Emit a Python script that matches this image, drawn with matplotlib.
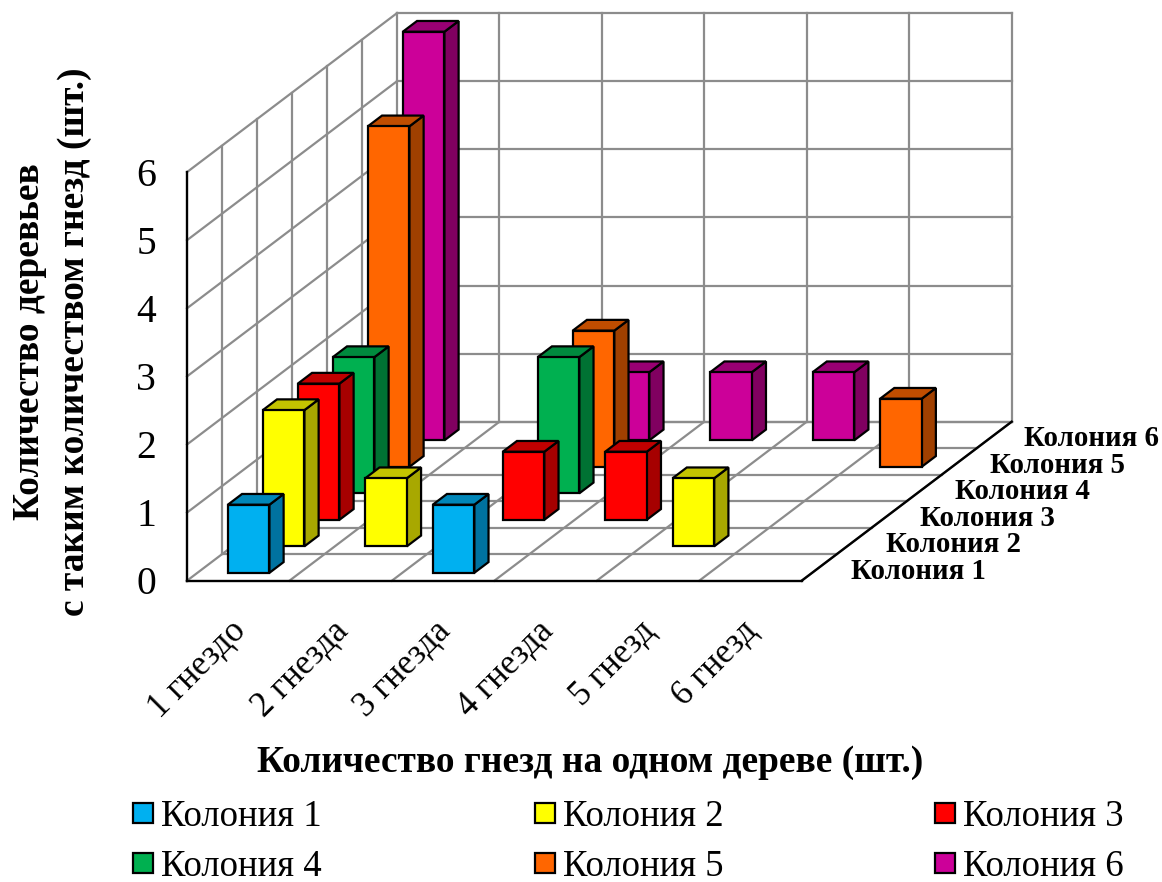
#!/usr/bin/env python3
"""Oblique 3D bar chart: trees by nest count for six colonies."""

from __future__ import annotations

import matplotlib

matplotlib.use("Agg")
import matplotlib.pyplot as plt
from matplotlib.patches import Polygon, Rectangle

plt.rcParams["font.family"] = ["Liberation Serif", "DejaVu Serif"]

nest_labels = ["1 гнездо", "2 гнезда", "3 гнезда", "4 гнезда", "5 гнезд", "6 гнезд"]
colonies = ["Колония 1", "Колония 2", "Колония 3", "Колония 4", "Колония 5", "Колония 6"]
z_ticks = [0, 1, 2, 3, 4, 5, 6]

colony_1 = [1, 0, 1, 0, 0, 0]
colony_2 = [2, 1, 0, 0, 1, 0]
colony_3 = [2, 0, 1, 1, 0, 0]
colony_4 = [2, 0, 2, 0, 0, 0]
colony_5 = [5, 0, 2, 0, 0, 1]
colony_6 = [6, 0, 1, 1, 1, 0]
counts = [colony_1, colony_2, colony_3, colony_4, colony_5, colony_6]

# front, top and side face colours per colony
face_colors = ["#00B0F0", "#FFFF00", "#FF0000", "#00B050", "#FF6600", "#CC0099"]
top_colors = ["#0086B8", "#C4C400", "#C00000", "#008A3E", "#C04D00", "#990073"]
side_colors = ["#0072A0", "#A8A800", "#A60000", "#007233", "#A04000", "#800060"]

GRID = "#8C8C8C"
ORIGIN_X, ORIGIN_Y = 187.0, 580.7
CAT_DX = 102.45
ROW_DX, ROW_DY = 35.0, -26.5
UNIT_DZ = 68.1
BAR_LO, BAR_HI = 0.297, 0.703


def project(cat: float, row: float, z: float) -> tuple[float, float]:
    """Map category, colony row and height to canvas pixels."""
    return (ORIGIN_X + cat * CAT_DX + row * ROW_DX, ORIGIN_Y + row * ROW_DY - z * UNIT_DZ)


def line3(ax, start, end, color=GRID, lw=1.6, zorder=1):
    x0, y0 = project(*start)
    x1, y1 = project(*end)
    ax.plot([x0, x1], [y0, y1], color=color, lw=lw, zorder=zorder, solid_capstyle="projecting")


def draw_bar(ax, cat, row, height, zorder):
    x0, x1 = cat + BAR_LO, cat + BAR_HI
    y0, y1 = row + BAR_LO, row + BAR_HI
    front = [(x0, y0, 0), (x1, y0, 0), (x1, y0, height), (x0, y0, height)]
    top = [(x0, y0, height), (x1, y0, height), (x1, y1, height), (x0, y1, height)]
    side = [(x1, y0, 0), (x1, y1, 0), (x1, y1, height), (x1, y0, height)]
    for corners, color in ((side, side_colors[row]), (top, top_colors[row]), (front, face_colors[row])):
        ax.add_patch(Polygon([project(*c) for c in corners], closed=True, facecolor=color,
                             edgecolor="black", lw=1.6, joinstyle="miter", zorder=zorder))


def main() -> int:
    fig = plt.figure(figsize=(11.62, 8.82), dpi=100)
    ax = fig.add_axes([0, 0, 1, 1])
    ax.set_xlim(0, 1162)
    ax.set_ylim(882, 0)
    ax.axis("off")

    n_cats, n_rows = len(nest_labels), len(colonies)
    z_max = z_ticks[-1]

    # walls and floor
    for z in z_ticks:
        line3(ax, (0, 0, z), (0, n_rows, z))
        line3(ax, (0, n_rows, z), (n_cats, n_rows, z))
    for row in range(1, n_rows + 1):
        line3(ax, (0, row, 0), (0, row, z_max))
        line3(ax, (0, row, 0), (n_cats, row, 0))
    for cat in range(1, n_cats + 1):
        line3(ax, (cat, 0, 0), (cat, n_rows, 0))
        line3(ax, (cat, n_rows, 0), (cat, n_rows, z_max))

    line3(ax, (0, 0, 0), (n_cats, 0, 0), color="black", lw=1.7, zorder=2)
    line3(ax, (n_cats, 0, 0), (n_cats, n_rows, 0), color="black", lw=1.7, zorder=2)
    line3(ax, (0, 0, 0), (0, 0, z_max), color="black", lw=1.7, zorder=2)

    # back rows first so nearer bars cover them
    order = 3
    for row in reversed(range(n_rows)):
        for cat in range(n_cats):
            if counts[row][cat] > 0:
                draw_bar(ax, cat, row, counts[row][cat], order)
                order += 1

    for z in z_ticks:
        x, y = project(0, 0, z)
        ax.text(x - 31, y + 4, str(z), fontsize=28.5, ha="right", va="center")

    for cat, label in enumerate(nest_labels):
        x, y = project(cat + 0.5, 0, 0)
        ax.text(x - 9, y + 34, label, fontsize=25, rotation=45, rotation_mode="anchor",
                ha="right", va="top")

    for row, label in enumerate(colonies):
        x, y = project(n_cats, row + 0.5, 0)
        ax.text(x + 32 - row * 0.4, y + 4, label, fontsize=20.8, fontweight="bold",
                ha="left", va="center")

    ax.text(590, 763, "Количество гнезд на одном дереве (шт.)", fontsize=26.9,
            fontweight="bold", ha="center", va="center")
    ax.text(52, 342, "Количество деревьев\nс таким количеством гнезд (шт.)", fontsize=26.9,
            fontweight="bold", rotation=90, ha="center", va="center", linespacing=1.34)

    # legend, three columns by two rows
    legend_x = [133, 535, 935]
    legend_y = [813, 863]
    for i, label in enumerate(colonies):
        x = legend_x[i % 3]
        y = legend_y[i // 3]
        ax.add_patch(Rectangle((x, y - 10), 20, 20, facecolor=face_colors[i],
                               edgecolor="black", lw=1.6, zorder=2))
        ax.text(x + 28, y + 4, label, fontsize=26.5, ha="left", va="center")

    fig.savefig("out.png", dpi=100)
    return 0


if __name__ == "__main__":
    raise SystemExit(main())
